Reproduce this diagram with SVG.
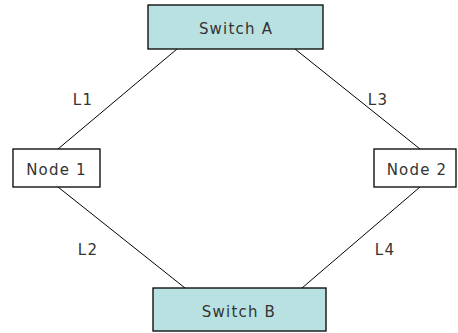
<svg xmlns="http://www.w3.org/2000/svg" width="458" height="333" viewBox="0 0 458 333">
<style>
.sw{fill:#b9e1e1;stroke:#000;stroke-width:1.3}
.nd{fill:#fff;stroke:#000;stroke-width:1.3}
.t{font-family:"DejaVu Sans",Verdana,sans-serif;font-size:15px;letter-spacing:1.2px;fill:#333;text-anchor:middle}
.c{stroke:#000;stroke-width:1;fill:none}
</style>
<rect width="458" height="333" fill="#fff"/>
<g id="connectors">
<line class="c" x1="177" y1="49" x2="58" y2="149"/>
<line class="c" x1="295" y1="49" x2="420" y2="149"/>
<line class="c" x1="58" y1="187" x2="185" y2="288"/>
<line class="c" x1="420" y1="187" x2="302" y2="288"/>
<text class="t" x="83" y="105">L1</text>
<text class="t" x="378" y="105">L3</text>
<text class="t" x="88" y="255">L2</text>
<text class="t" x="385" y="255">L4</text>
</g>
<g id="switchA">
<rect class="sw" x="148" y="5" width="175" height="44"/>
<text class="t" x="236" y="34">Switch A</text>
</g>
<g id="node1">
<rect class="nd" x="13" y="149" width="87" height="38"/>
<text class="t" x="56.5" y="175">Node 1</text>
</g>
<g id="node2">
<rect class="nd" x="374" y="149" width="82" height="38"/>
<text class="t" x="417" y="175">Node 2</text>
</g>
<g id="switchB">
<rect class="sw" x="153" y="288" width="173" height="43"/>
<text class="t" x="239" y="317">Switch B</text>
</g>
</svg>
